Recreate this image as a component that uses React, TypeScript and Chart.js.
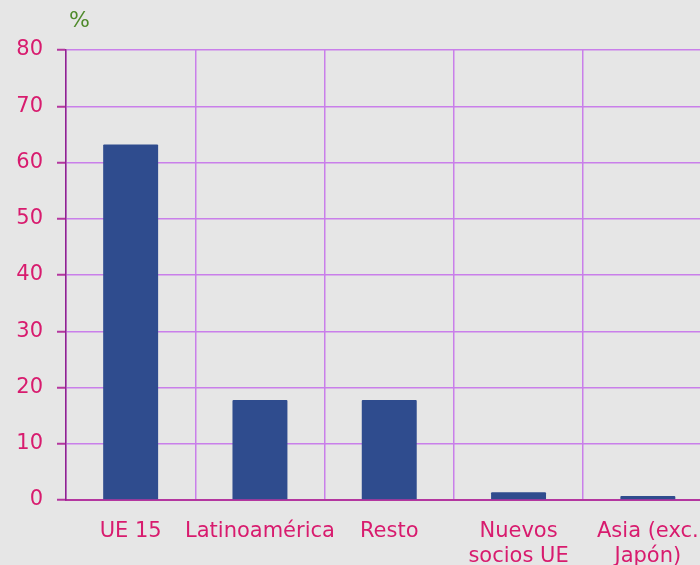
import React, { useEffect, useRef } from "react";
import { Chart, registerables } from "chart.js";

Chart.register(...registerables);

const categories: (string | string[])[] = [
  "UE 15",
  "Latinoamérica",
  "Resto",
  ["Nuevos", "socios UE"],
  ["Asia (exc.", "Japón)"],
];
const values: number[] = [63.2, 17.8, 17.8, 1.4, 0.7];
const yTicks: number[] = [0, 10, 20, 30, 40, 50, 60, 70, 80];
const unitLabel = "%";

const BG = "#e6e6e6";
const BAR = "#2f4c8e";
const TICK_TEXT = "#d81b6e";
const GRID = "#c97fea";
const AXIS_Y = "#8f2390";
const AXIS_X = "#b4369f";
const GREEN = "#4f8a2b";
const FONT = "'DejaVu Sans', sans-serif";

const unitPlugin = {
  id: "unitLabel",
  afterDraw(chart: any) {
    const { ctx, chartArea } = chart;
    ctx.save();
    ctx.fillStyle = GREEN;
    ctx.font = `22px ${FONT}`;
    ctx.textAlign = "left";
    ctx.textBaseline = "alphabetic";
    ctx.fillText(unitLabel, chartArea.left + 3, chartArea.top - 23);
    ctx.restore();
  },
};

export default function App() {
  const ref = useRef<HTMLCanvasElement | null>(null);

  useEffect(() => {
    if (!ref.current) return;
    const chart = new Chart(ref.current, {
      type: "bar",
      data: {
        labels: categories,
        datasets: [
          {
            data: values,
            backgroundColor: BAR,
            borderWidth: 0,
            borderRadius: 1,
            categoryPercentage: 1,
            barPercentage: 0.425,
          },
        ],
      },
      options: {
        responsive: false,
        animation: false,
        layout: { padding: { left: 0, right: 7.5, top: 50, bottom: 0 } },
        plugins: {
          legend: { display: false },
          tooltip: { enabled: false },
          title: { display: false },
        },
        scales: {
          x: {
            grid: {
              color: GRID,
              lineWidth: 1.5,
              drawTicks: false,
              offset: true,
            },
            border: { color: AXIS_X, width: 2 },
            ticks: {
              color: TICK_TEXT,
              font: { family: FONT, size: 21, lineHeight: 1.2 },
              padding: 19,
              maxRotation: 0,
              autoSkip: false,
            },
            afterFit: (s: any) => {
              s.height = 100;
            },
          },
          y: {
            min: 0,
            max: 80,
            afterBuildTicks: (s: any) => {
              s.ticks = yTicks.map((v) => ({ value: v }));
            },
            grid: {
              color: GRID,
              lineWidth: 1.5,
              tickColor: AXIS_X,
              tickLength: 9,
              tickWidth: 2,
            },
            border: { color: AXIS_Y, width: 1.5 },
            ticks: {
              color: TICK_TEXT,
              font: { family: FONT, size: 21 },
              padding: 14,
            },
            afterFit: (s: any) => {
              s.width = 66;
            },
          },
        },
      },
      plugins: [unitPlugin],
    });
    return () => chart.destroy();
  }, []);

  return (
    <div
      style={{
        position: "fixed",
        left: 0,
        top: 0,
        width: 700,
        height: 565,
        overflow: "hidden",
        background: BG,
      }}
    >
      <canvas ref={ref} width={720} height={600} style={{ display: "block" }} />
    </div>
  );
}
